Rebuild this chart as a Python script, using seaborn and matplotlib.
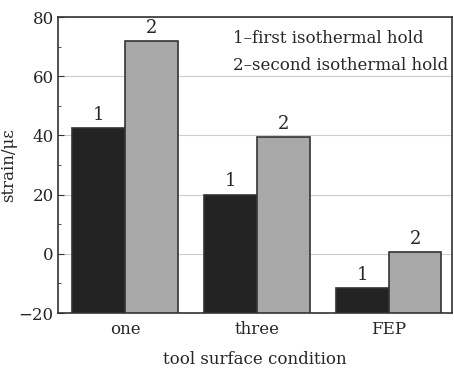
import matplotlib
matplotlib.use("Agg")
import matplotlib.pyplot as plt
import seaborn as sns
import pandas as pd
from matplotlib.ticker import MultipleLocator

conditions = ["one", "three", "FEP"]
first_hold = [42.5, 20.0, -11.5]
second_hold = [71.8, 39.5, 0.6]
hold_labels = ["1", "2"]
legend_lines = ["1\u2013first isothermal hold", "2\u2013second isothermal hold"]
y_floor = -20

df = pd.DataFrame({
    "condition": conditions * 2,
    "strain": first_hold + second_hold,
    "hold": [hold_labels[0]] * 3 + [hold_labels[1]] * 3,
})

sns.set_style("white")
plt.rcParams["font.family"] = ["DejaVu Serif"]

fig = plt.figure(figsize=(4.54, 3.75), dpi=100)
ax = fig.add_axes([58/454, 1 - 313/375, (452-58)/454, (313-17)/375])

sns.barplot(data=df, x="condition", y="strain", hue="hold",
            palette=["#232323", "#a8a8a8"], width=0.8, ax=ax,
            edgecolor="#333333", linewidth=1.2, legend=False, zorder=3)

# bars rise from the bottom of the axis, as in the original figure
for cont, lab in zip(ax.containers, hold_labels):
    for p in cont:
        value = p.get_y() + p.get_height()
        p.set_y(y_floor)
        p.set_height(value - y_floor)
        ax.annotate(lab, (p.get_x() + p.get_width() / 2, value),
                    xytext=(0, 3), textcoords="offset points",
                    ha="center", va="bottom", fontsize=13)

ax.set_ylim(y_floor, 80)
ax.set_xlim(-0.51, 2.48)
ax.yaxis.set_major_locator(MultipleLocator(20))
ax.yaxis.set_minor_locator(MultipleLocator(10))
ax.grid(axis="y", which="major", color="#cccccc", linewidth=0.8, zorder=0)
ax.tick_params(axis="y", which="major", direction="in", length=4, labelsize=12, left=True, color="#333333", pad=3)
ax.tick_params(axis="y", which="minor", direction="in", length=2, left=True, color="#333333")
ax.tick_params(axis="x", which="major", length=0, labelsize=12, pad=6)

for side in ["left", "bottom", "top", "right"]:
    ax.spines[side].set_color("#333333")
    ax.spines[side].set_linewidth(1.2)

ax.set_xlabel("tool surface condition", fontsize=12, labelpad=9)
ax.set_ylabel("strain/\u03bc\u03b5", fontsize=12)
ax.yaxis.set_label_coords(-0.105, 0.5)

ax.text(0.444, 0.955, legend_lines[0], transform=ax.transAxes, fontsize=12, va="top", ha="left")
ax.text(0.444, 0.865, legend_lines[1], transform=ax.transAxes, fontsize=12, va="top", ha="left")

fig.savefig("out.png", dpi=100)
